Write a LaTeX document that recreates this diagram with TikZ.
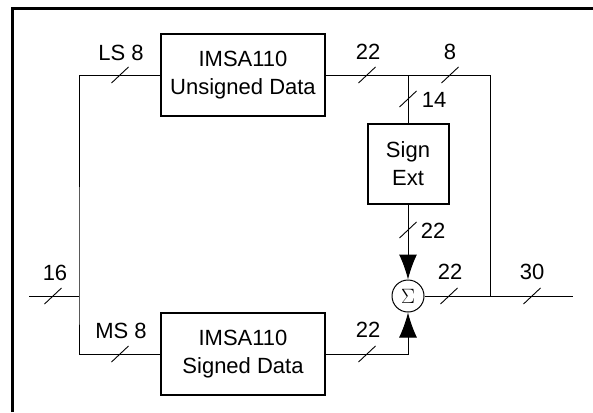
\documentclass[tikz,border=0pt]{standalone}
\usepackage{fontspec}
\setmainfont{Liberation Sans}
\usetikzlibrary{arrows.meta}

\begin{document}
\begin{tikzpicture}[x=1pt, y=-1pt,
    block/.style={draw, line width=2pt, align=center, inner sep=0pt,
        font=\fontsize{22}{28}\selectfont},
    width/.style={inner sep=0pt, text depth=0pt, font=\fontsize{22}{25}\selectfont},
    wire/.style={line width=1pt},
    slash/.style={line width=0.9pt},
    sumarrow/.style={wire, -{Latex[length=25pt, width=18pt]}}]
    \useasboundingbox (0,0) rectangle (593,412);
    \draw[line width=3pt] (12,412) -- (12,9) -- (593,9);

    \node[block, minimum width=164pt, minimum height=82pt] (ub) at (243,75) {IMSA110\\Unsigned Data};
    \node[block, minimum width=164pt, minimum height=82pt] (sb) at (243,354) {IMSA110\\Signed Data};
    \node[block, minimum width=81pt, minimum height=80pt] (se) at (408,164) {Sign\\Ext};
    \node[draw, circle, wire, minimum size=32pt, inner sep=0pt] (sum) at (408,296) {\fontsize{20}{20}\selectfont$\Sigma$};

    \coordinate (in) at (29,296);
    \coordinate (split) at (79,296);
    \coordinate (tap) at (408,75);
    \coordinate (merge) at (490,296);
    \coordinate (out) at (573,296);

    \draw[wire] (in) -- (split);
    \draw[wire] (ub.west) -| (split) |- (sb.west);
    \draw[wire] (ub.east) -| (merge);
    \draw[wire] (tap) -- (se);
    \draw[sumarrow] (se) -- (sum);
    \draw[sumarrow] (sb.east) -| (sum);
    \draw[wire] (sum) -- (out);

    \foreach \x/\y in {53/296, 120/75, 120/354, 367/75, 450/75, 408/99,
                       408/230, 367/354, 449/296, 532/296}
        \draw[slash] (\x,\y) +(-8.5,8) -- +(8.5,-8);

    \node[width] (l16) at (55,273) {16};
    \node[width] (lls) at (121,53) {LS 8};
    \node[width] (lms) at (121,331) {MS 8};
    \node[width] (lub) at (368,52) {22};
    \node[width] (l8) at (450,52) {8};
    \node[width] (l14) at (434,100) {14};
    \node[width] (lse) at (433,231) {22};
    \node[width] (lsb) at (368,330) {22};
    \node[width] (lsum) at (450,272) {22};
    \node[width] (l30) at (532,272) {30};
\end{tikzpicture}
\end{document}
